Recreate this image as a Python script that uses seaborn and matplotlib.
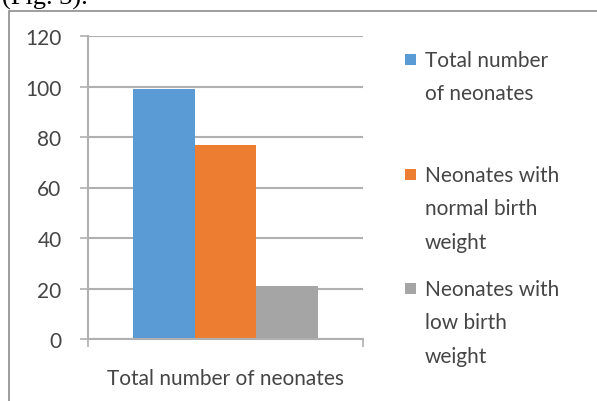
import numpy as np
import pandas as pd
import matplotlib
matplotlib.use("Agg")
import matplotlib.pyplot as plt
from matplotlib.patches import Rectangle
import seaborn as sns

# data
category = ["Total number of neonates"]
series = ["Total number\nof neonates",
          "Neonates with\nnormal birth\nweight",
          "Neonates with\nlow birth\nweight"]
values = [99, 77, 21]
colors = ["#5B9BD5", "#ED7D31", "#A5A5A5"]
yticks = [0, 20, 40, 60, 80, 100, 120]

df = pd.DataFrame({
    "group": category * len(series),
    "series": series,
    "value": values,
})

sns.set_style("white")
plt.rcParams["font.family"] = ["Lato", "DejaVu Sans"]
text_col = "#454545"
grid_col = "#b0b0b0"
fs = 15

W, H = 597, 402
fig = plt.figure(figsize=(W / 100, H / 100), dpi=100)
ax = fig.add_axes([88 / W, 62 / H, 275 / W, 303 / H])

sns.barplot(data=df, x="group", y="value", hue="series", hue_order=series,
            palette=colors, width=0.67, saturation=1, linewidth=0,
            edgecolor="none", ax=ax, legend=False)

ax.set_xlim(-0.5, 0.5)
ax.set_ylim(0, 120)
ax.set_yticks(yticks)
ax.set_yticklabels([str(t) for t in yticks])
ax.yaxis.grid(True, color=grid_col, lw=1.5)
ax.set_axisbelow(True)
for s in ["top", "right"]:
    ax.spines[s].set_visible(False)
for s in ["left", "bottom"]:
    ax.spines[s].set_color(grid_col)
    ax.spines[s].set_linewidth(1.5)

ax.set_xlabel("")
ax.set_ylabel("")
ax.tick_params(axis="y", which="major", length=6, width=1.2, color=grid_col,
               pad=13, labelsize=fs, labelcolor=text_col, left=True)
ax.tick_params(axis="x", which="major", length=0, pad=21, labelsize=fs,
               labelcolor=text_col)
ax.set_xticks([-0.5, 0.5], minor=True)
ax.tick_params(axis="x", which="minor", length=6, width=1.2, color=grid_col,
               bottom=True)

# legend drawn by hand so each square sits on the first line of its label
leg_tops = [51, 166, 280]
for lab, col, top in zip(series, colors, leg_tops):
    fig.patches.append(Rectangle((405 / W, 1 - (top + 15) / H), 11 / W, 11 / H,
                                 transform=fig.transFigure, facecolor=col,
                                 edgecolor="none"))
    fig.text(425 / W, 1 - top / H, lab, ha="left", va="top", fontsize=fs,
             color=text_col, linespacing=1.83)

# border of the chart area (cropped at right and bottom)
fig.patches.append(Rectangle((9 / W, -0.1), 1.2, 1.1 - 12 / H,
                             transform=fig.transFigure, fill=False,
                             edgecolor="#8c8c8c", lw=1.2))

# caption above the chart, cut off by the crop as in the source
fig.text(2 / W, 1 - 5 / H, "(Fig. 3).", ha="left", va="baseline",
         fontsize=19, family="Liberation Serif", color="black")

fig.savefig("out.png", dpi=100)
